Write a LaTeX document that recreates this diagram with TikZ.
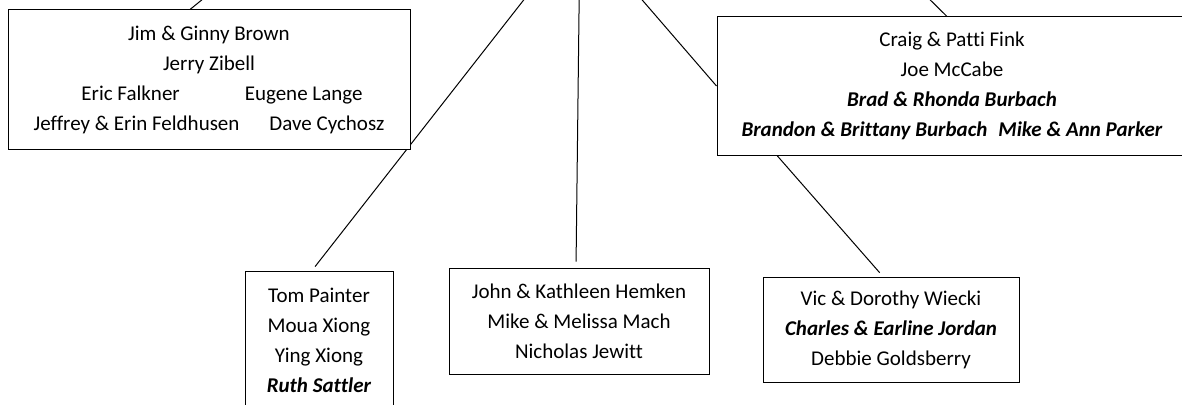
\documentclass[tikz,border=0pt]{standalone}
\usepackage{fontspec}
\setmainfont{Carlito}[Ligatures=NoCommon]
\usetikzlibrary{backgrounds}

\tikzset{
  namebox/.style={draw, fill=white, line width=1pt, align=center, inner sep=0pt,
    font=\fontsize{21}{30}\selectfont},
  link/.style={line width=1pt}
}
\newcommand{\bitext}[1]{\textbf{\textit{#1}}}

\begin{document}
\begin{tikzpicture}[x=1pt, y=-1pt]
        \useasboundingbox (0,0) rectangle (1182,404);

        \node[namebox, minimum width=402pt, minimum height=139pt] (brown) at (209,79.5)
          {Jim \& Ginny Brown\\ Jerry Zibell\\
           \hspace*{26pt}Eric Falkner\hspace{65pt}Eugene Lange\\
           Jeffrey \& Erin Feldhusen\hspace{30pt}Dave Cychosz};
        \node[namebox, minimum width=470pt, minimum height=138pt] (fink) at (952,86)
          {Craig \& Patti Fink\\ Joe McCabe\\ \bitext{Brad \& Rhonda Burbach}\\
           \bitext{Brandon \& Brittany Burbach\hspace{11pt}Mike \& Ann Parker}};
        \node[namebox, minimum width=148pt, minimum height=139pt] (tom) at (319,340.5)
          {Tom Painter\\ Moua Xiong\\ Ying Xiong\\ \bitext{Ruth Sattler}};
        \node[namebox, minimum width=260pt, minimum height=106pt] (hemken) at (579,321)
          {John \& Kathleen Hemken\\ Mike \& Melissa Mach\\ Nicholas Jewitt};
        \node[namebox, minimum width=256pt, minimum height=105pt] (wiecki) at (891,329.5)
          {Vic \& Dorothy Wiecki\\ \bitext{Charles \& Earline Jordan}\\ Debbie Goldsberry};

        % parents above the page
        \coordinate (hub) at (580,-72);
        \coordinate (upleft) at (214,-10);
        \coordinate (upright) at (913,-17);

        \begin{scope}[on background layer]
          \draw[link] ([xshift=-19pt]brown.north) -- (upleft);
          \draw[link, shorten <=5pt] ([xshift=-7pt]tom.north) -- (hub);
          \draw[link, shorten <=6pt] ([xshift=-3pt]hemken.north) -- (hub);
          \draw[link] (fink.west) -- (hub);
          \draw[link] ([xshift=-5pt]fink.north) -- (upright);
          \draw[link, shorten >=5pt] ([xshift=-175pt]fink.south) -- ([xshift=-8pt]wiecki.north);
        \end{scope}
      \end{tikzpicture}
\end{document}
